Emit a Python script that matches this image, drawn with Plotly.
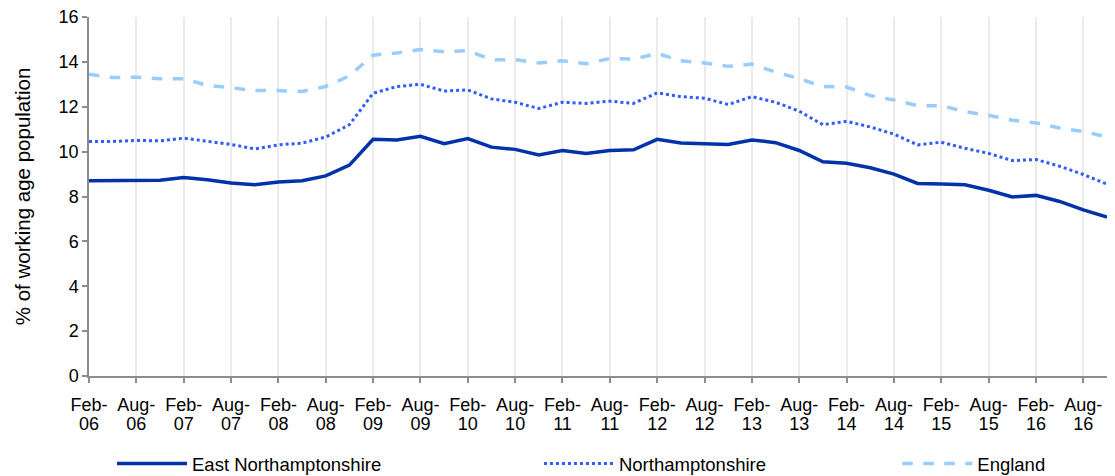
import plotly.graph_objects as go

periods = []
for yr in range(6, 17):
    for m in ["Feb", "May", "Aug", "Nov"]:
        periods.append(f"{m}-{yr:02d}")

east_northants = [8.70, 8.70, 8.70, 8.72, 8.85, 8.75, 8.60, 8.52, 8.65, 8.70, 8.92, 9.40,
                  10.55, 10.52, 10.68, 10.35, 10.58, 10.20, 10.10, 9.85, 10.05, 9.92, 10.05, 10.08,
                  10.55, 10.38, 10.35, 10.32, 10.52, 10.40, 10.05, 9.55, 9.48, 9.28, 9.00, 8.58,
                  8.56, 8.52, 8.28, 7.98, 8.05, 7.78, 7.40, 7.08]
northants = [10.45, 10.45, 10.50, 10.48, 10.60, 10.45, 10.32, 10.12, 10.30, 10.38, 10.65, 11.20,
             12.60, 12.90, 13.00, 12.70, 12.75, 12.35, 12.20, 11.92, 12.20, 12.15, 12.25, 12.15,
             12.62, 12.45, 12.38, 12.10, 12.45, 12.20, 11.80, 11.20, 11.35, 11.10, 10.78, 10.30,
             10.42, 10.15, 9.92, 9.60, 9.65, 9.35, 8.98, 8.55]
england = [13.45, 13.30, 13.32, 13.25, 13.25, 12.95, 12.85, 12.72, 12.72, 12.68, 12.90, 13.38,
           14.30, 14.40, 14.55, 14.45, 14.50, 14.10, 14.10, 13.95, 14.05, 13.92, 14.15, 14.12,
           14.38, 14.05, 13.95, 13.80, 13.90, 13.55, 13.25, 12.90, 12.88, 12.50, 12.30, 12.05,
           12.05, 11.78, 11.62, 11.40, 11.28, 11.05, 10.90, 10.65]

y_ticks = [0, 2, 4, 6, 8, 10, 12, 14, 16]

idx = list(range(len(periods)))
tick_idx = idx[::2]
tick_month = [periods[i].split("-")[0] + "-" for i in tick_idx]
tick_year = [periods[i].split("-")[1] for i in tick_idx]

FONT = "Liberation Sans, Arial, sans-serif"
AX = "#8C8C8C"

fig = go.Figure()
fig.add_trace(go.Scatter(x=idx, y=east_northants, mode="lines", name="East Northamptonshire",
                         line=dict(color="#0033AA", width=3.5), legend="legend"))
fig.add_trace(go.Scatter(x=idx, y=northants, mode="lines", name="Northamptonshire",
                         line=dict(color="#2E5CFF", width=3, dash="dot"), legend="legend2"))
fig.add_trace(go.Scatter(x=idx, y=england, mode="lines", name="England",
                         line=dict(color="#99CCFF", width=3.5, dash="dash"), legend="legend3"))
# invisible trace to activate the year-label axis
fig.add_trace(go.Scatter(x=idx, y=england, xaxis="x2", mode="lines", showlegend=False,
                         hoverinfo="skip", line=dict(width=0), opacity=0))

leg_common = dict(orientation="h", yanchor="middle", y=-0.245, xanchor="left",
                  font=dict(family=FONT, size=18.5, color="#000"), itemwidth=70,
                  bgcolor="rgba(0,0,0,0)")

fig.update_layout(
    width=1107, height=468,
    margin=dict(l=81, r=8, t=9, b=100, autoexpand=False),
    paper_bgcolor="white", plot_bgcolor="white",
    font=dict(family=FONT, size=18, color="#000"),
    showlegend=True,
    legend=dict(x=0.0226, **leg_common),
    legend2=dict(x=0.442, **leg_common),
    legend3=dict(x=0.794, **leg_common),
    xaxis=dict(range=[0, len(periods) - 1], tickmode="array", tickvals=tick_idx, ticktext=tick_month,
               showgrid=True, gridcolor="#EBEBEB", gridwidth=1.5,
               showline=True, linecolor=AX, linewidth=1.5,
               ticks="outside", ticklen=5, tickcolor=AX, tickwidth=1.5, ticklabeloverflow="allow",
               ticklabelstandoff=7,
               tickfont=dict(family=FONT, size=18), zeroline=False, automargin=False),
    xaxis2=dict(range=[0, len(periods) - 1], overlaying="x", anchor="y", side="bottom",
                tickmode="array", tickvals=tick_idx, ticktext=tick_year,
                showgrid=False, showline=False, ticks="", zeroline=False, ticklabeloverflow="allow",
                ticklabelstandoff=35, tickfont=dict(family=FONT, size=18), automargin=False),
    yaxis=dict(range=[0, 16], tickmode="array", tickvals=y_ticks,
               showgrid=False, showline=True, linecolor=AX, linewidth=1.5,
               ticks="outside", ticklen=5, tickcolor=AX, tickwidth=1.5, ticklabeloverflow="allow",
               tickfont=dict(family=FONT, size=18), zeroline=False, automargin=False,
               title=dict(text="% of working age population", font=dict(family=FONT, size=20.5),
                          standoff=22)),
)

fig.write_html("out.html")
